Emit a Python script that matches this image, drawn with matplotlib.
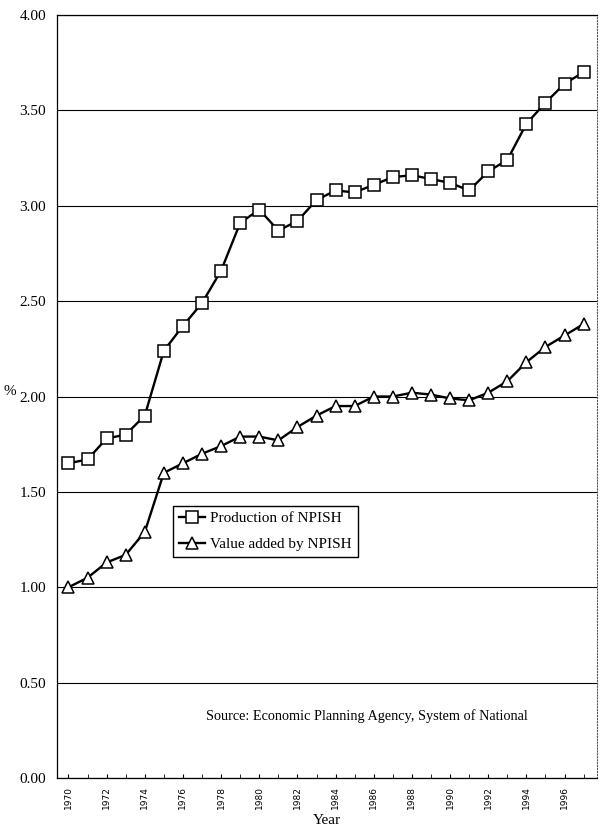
import matplotlib
matplotlib.use("Agg")
import matplotlib.pyplot as plt
import numpy as np
from matplotlib.ticker import MultipleLocator, FormatStrFormatter

plt.rcParams['font.family'] = ['Liberation Serif', 'DejaVu Serif']

years = list(range(1970, 1998))
production = [1.65, 1.67, 1.78, 1.80, 1.90, 2.24, 2.37, 2.49, 2.66, 2.91,
              2.98, 2.87, 2.92, 3.03, 3.08, 3.07, 3.11, 3.15, 3.16, 3.14,
              3.12, 3.08, 3.18, 3.24, 3.43, 3.54, 3.64, 3.70]
value_added = [1.00, 1.05, 1.13, 1.17, 1.29, 1.60, 1.65, 1.70, 1.74, 1.79,
               1.79, 1.77, 1.84, 1.90, 1.95, 1.95, 2.00, 2.00, 2.02, 2.01,
               1.99, 1.98, 2.02, 2.08, 2.18, 2.26, 2.32, 2.38]
year_labels = list(range(1970, 1997, 2))

fig = plt.figure(figsize=(6, 8.33), dpi=100)
ax = fig.add_axes([0.095, 0.066, 0.9, 0.916])

ax.plot(years, production, color='black', lw=1.7, marker='s', markersize=9,
        markerfacecolor='white', markeredgecolor='black', markeredgewidth=1.1,
        label='Production of NPISH')
ax.plot(years, value_added, color='black', lw=1.7, marker='^', markersize=9,
        markerfacecolor='white', markeredgecolor='black', markeredgewidth=1.1,
        label='Value added by NPISH')

ax.set_ylim(0, 4)
ax.set_xlim(1969.4, 1997.7)
ax.yaxis.set_major_locator(MultipleLocator(0.5))
ax.yaxis.set_major_formatter(FormatStrFormatter('%.2f'))
ax.yaxis.grid(True, color='black', lw=0.8)
ax.set_axisbelow(True)

ax.set_xticks(year_labels)
ax.set_xticklabels([str(y) for y in year_labels], rotation=90, fontsize=6.5,
                   family='DejaVu Sans')
ax.set_xticks(years, minor=True)
ax.tick_params(axis='x', which='both', direction='in', length=3, pad=6)
ax.tick_params(axis='y', length=0, labelsize=11, pad=8)

for s in ['top', 'left', 'bottom']:
    ax.spines[s].set_linewidth(0.9)
ax.spines['right'].set_linestyle(':')
ax.spines['right'].set_color('#555555')

ax.set_xlabel('Year', fontsize=11, labelpad=3)
ax.set_ylabel('%', fontsize=11, rotation=0)
ax.yaxis.set_label_coords(-0.087, 0.498)

ax.legend(loc='upper left', bbox_to_anchor=(0.215, 0.357), fontsize=11,
          frameon=True, fancybox=False, edgecolor='black', framealpha=1,
          handlelength=1.7, borderpad=0.4, labelspacing=0.8,
          handletextpad=0.3, borderaxespad=0)

ax.text(0.275, 0.076, 'Source: Economic Planning Agency, System of National',
        transform=ax.transAxes, fontsize=10.3)

fig.savefig('out.png', dpi=100)
